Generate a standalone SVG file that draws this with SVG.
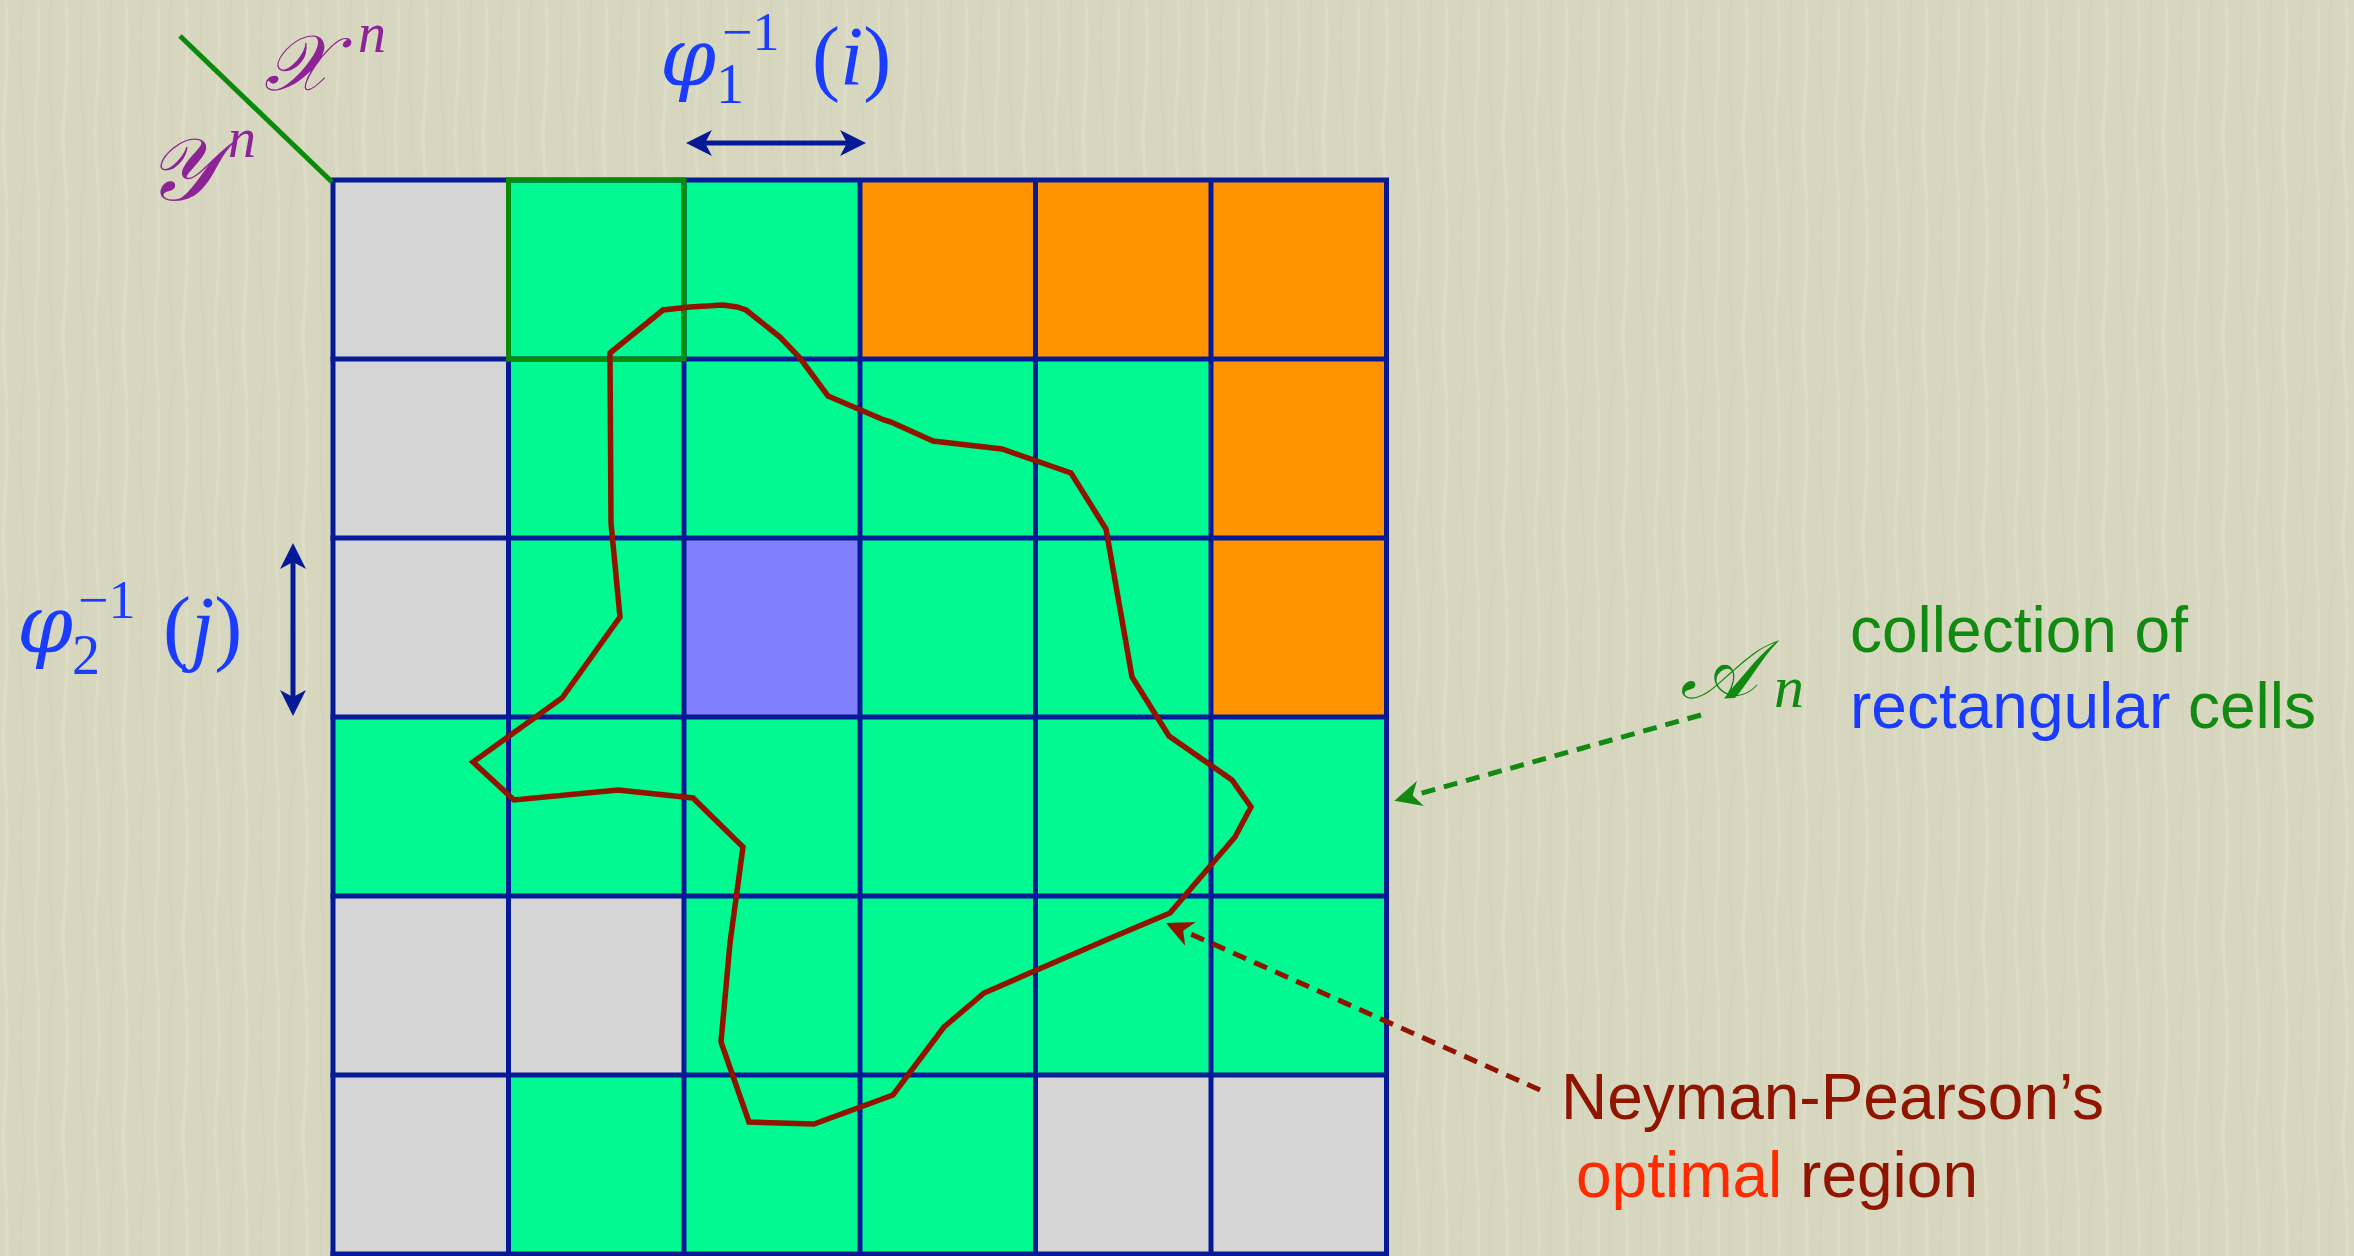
<svg xmlns="http://www.w3.org/2000/svg" width="2354" height="1256" viewBox="0 0 2354 1256">
<style>
.g{fill:#d5d5d5}.a{fill:#00f990}.o{fill:#ff9400}.b{fill:#8080ff}
.grid{stroke:#061a96;stroke-width:5;fill:none}
.math{font-family:"Liberation Serif","DejaVu Serif",serif}
.phi{font-family:"DejaVu Serif","Liberation Serif",serif;font-style:italic}
.it{font-style:italic}
.lbl{font-family:"Liberation Sans",Arial,sans-serif;font-size:64px}
</style>
<defs>
<pattern id="tex" patternUnits="userSpaceOnUse" width="60" height="200">
<rect width="60" height="200" fill="#d7d7bf"/>
<path d="M6 0 Q9 50 5 100 T7 200" stroke="#e3e3cf" stroke-width="3" fill="none" opacity="0.5"/>
<path d="M22 0 Q19 60 23 120 T21 200" stroke="#cfcfb6" stroke-width="2" fill="none" opacity="0.4"/>
<path d="M38 0 Q41 40 37 90 T39 200" stroke="#e1e1cd" stroke-width="2.5" fill="none" opacity="0.5"/>
<path d="M51 0 Q48 70 52 130 T50 200" stroke="#d0d0b8" stroke-width="2" fill="none" opacity="0.4"/>
</pattern>
<marker id="nav" viewBox="-28 -14 30 28" refX="-12" refY="0" markerWidth="30" markerHeight="28" markerUnits="userSpaceOnUse" orient="auto-start-reverse">
<path d="M0,0 L-26,-13 L-19,0 L-26,13 Z" fill="#061a96"/>
</marker>
<marker id="grn" viewBox="-30 -15 32 30" refX="-10" refY="0" markerWidth="32" markerHeight="30" markerUnits="userSpaceOnUse" orient="auto">
<path d="M0,0 L-27,-13 L-19,0 L-27,13 Z" fill="#128a12"/>
</marker>
<marker id="red" viewBox="-30 -15 32 30" refX="-10" refY="0" markerWidth="32" markerHeight="30" markerUnits="userSpaceOnUse" orient="auto">
<path d="M0,0 L-27,-13 L-19,0 L-27,13 Z" fill="#8f1500"/>
</marker>
</defs>
<rect width="2354" height="1256" fill="url(#tex)"/>

<g id="cells">
<rect id="c00" class="g" x="333" y="180" width="175.5" height="179"/>
<rect id="c01" class="a" x="508.5" y="180" width="175.5" height="179"/>
<rect id="c02" class="a" x="684" y="180" width="176" height="179"/>
<rect id="c03" class="o" x="860" y="180" width="175.5" height="179"/>
<rect id="c04" class="o" x="1035.5" y="180" width="175.5" height="179"/>
<rect id="c05" class="o" x="1211" y="180" width="175.5" height="179"/>
<rect id="c10" class="g" x="333" y="359" width="175.5" height="179"/>
<rect id="c11" class="a" x="508.5" y="359" width="175.5" height="179"/>
<rect id="c12" class="a" x="684" y="359" width="176" height="179"/>
<rect id="c13" class="a" x="860" y="359" width="175.5" height="179"/>
<rect id="c14" class="a" x="1035.5" y="359" width="175.5" height="179"/>
<rect id="c15" class="o" x="1211" y="359" width="175.5" height="179"/>
<rect id="c20" class="g" x="333" y="538" width="175.5" height="179"/>
<rect id="c21" class="a" x="508.5" y="538" width="175.5" height="179"/>
<rect id="c22" class="b" x="684" y="538" width="176" height="179"/>
<rect id="c23" class="a" x="860" y="538" width="175.5" height="179"/>
<rect id="c24" class="a" x="1035.5" y="538" width="175.5" height="179"/>
<rect id="c25" class="o" x="1211" y="538" width="175.5" height="179"/>
<rect id="c30" class="a" x="333" y="717" width="175.5" height="179"/>
<rect id="c31" class="a" x="508.5" y="717" width="175.5" height="179"/>
<rect id="c32" class="a" x="684" y="717" width="176" height="179"/>
<rect id="c33" class="a" x="860" y="717" width="175.5" height="179"/>
<rect id="c34" class="a" x="1035.5" y="717" width="175.5" height="179"/>
<rect id="c35" class="a" x="1211" y="717" width="175.5" height="179"/>
<rect id="c40" class="g" x="333" y="896" width="175.5" height="179"/>
<rect id="c41" class="g" x="508.5" y="896" width="175.5" height="179"/>
<rect id="c42" class="a" x="684" y="896" width="176" height="179"/>
<rect id="c43" class="a" x="860" y="896" width="175.5" height="179"/>
<rect id="c44" class="a" x="1035.5" y="896" width="175.5" height="179"/>
<rect id="c45" class="a" x="1211" y="896" width="175.5" height="179"/>
<rect id="c50" class="g" x="333" y="1075" width="175.5" height="181"/>
<rect id="c51" class="a" x="508.5" y="1075" width="175.5" height="181"/>
<rect id="c52" class="a" x="684" y="1075" width="176" height="181"/>
<rect id="c53" class="a" x="860" y="1075" width="175.5" height="181"/>
<rect id="c54" class="g" x="1035.5" y="1075" width="175.5" height="181"/>
<rect id="c55" class="g" x="1211" y="1075" width="175.5" height="181"/>
</g>

<g id="grid" class="grid">
<path d="M333 180V1256M508.5 180V1256M684 180V1256M860 180V1256M1035.5 180V1256M1211 180V1256M1386.5 180V1256"/>
<path d="M330.5 180H1389M330.5 359H1389M330.5 538H1389M330.5 717H1389M330.5 896H1389M330.5 1075H1389M330.5 1254H1389"/>
</g>

<g id="highlight-cell">
<rect x="508.5" y="180" width="175.5" height="179" fill="none" stroke="#0a8a0a" stroke-width="5"/>
</g>

<g id="corner">
<line x1="180" y1="36" x2="332" y2="182" stroke="#0a8a0a" stroke-width="5"/>
<text class="math it" x="264" y="90" font-size="78" fill="#8c2396">𝒳</text>
<text class="math it" x="358" y="52" font-size="56" fill="#8c2396">n</text>
<text class="math it" x="146" y="200" font-size="88" fill="#8c2396">𝒴</text>
<text class="math it" x="228" y="157" font-size="56" fill="#8c2396">n</text>
</g>

<g id="region">
<polygon points="610,353 663,310 690,307 723,305 737,307 746,310 780,337 800,358 828,396 884,420 891,422 933,441 1002,449 1071,473 1106,529 1132,677 1169,736 1232,780 1251,807 1235,837 1170,913 1106,940 984,993 944,1027 893,1095 814,1124 749,1122 721,1042 730,943 743,847 693,798 618,790 514,800 473,762 562,698 620,617 611,523" fill="none" stroke="#8f1500" stroke-width="5.5" stroke-linejoin="miter"/>
</g>

<g id="connectors">
<line x1="698" y1="143" x2="854" y2="143" stroke="#061a96" stroke-width="5" marker-start="url(#nav)" marker-end="url(#nav)"/>
<line x1="293" y1="555" x2="293" y2="704" stroke="#061a96" stroke-width="5" marker-start="url(#nav)" marker-end="url(#nav)"/>
<path d="M1701 715 L1404 798" stroke="#128a12" stroke-width="5" stroke-dasharray="14 9" fill="none" marker-end="url(#grn)"/>
<path d="M1540 1090 L1175 927" stroke="#8f1500" stroke-width="5" stroke-dasharray="14 9" fill="none" marker-end="url(#red)"/>
</g>

<g id="phi1" class="math" fill="#1a3cff">
<text x="660" y="85" font-size="80" class="phi">φ</text>
<text x="716" y="103" font-size="56">1</text>
<text x="722" y="50" font-size="54">−1</text>
<text x="812" y="85" font-size="84">(<tspan class="it">i</tspan>)</text>
</g>

<g id="phi2" class="math" fill="#1a3cff">
<text x="17" y="652" font-size="80" class="phi">φ</text>
<text x="72" y="674" font-size="56">2</text>
<text x="78" y="618" font-size="54">−1</text>
<text x="163" y="655" font-size="84">(<tspan class="it">j</tspan>)</text>
</g>

<g id="An">
<text class="math it" x="1680" y="698" font-size="82" fill="#128a12">𝒜</text>
<text class="math it" x="1774" y="707" font-size="60" fill="#128a12">n</text>
<text class="lbl" x="1850" y="652" fill="#128a12">collection of</text>
<text class="lbl" x="1850" y="728"><tspan fill="#1a3cff">rectangular</tspan><tspan fill="#128a12"> cells</tspan></text>
</g>

<g id="np">
<text class="lbl" x="1561" y="1119" fill="#8f1500">Neyman-Pearson’s</text>
<text class="lbl" x="1576" y="1197"><tspan fill="#ff2a00">optimal</tspan><tspan fill="#8f1500"> region</tspan></text>
</g>
</svg>
